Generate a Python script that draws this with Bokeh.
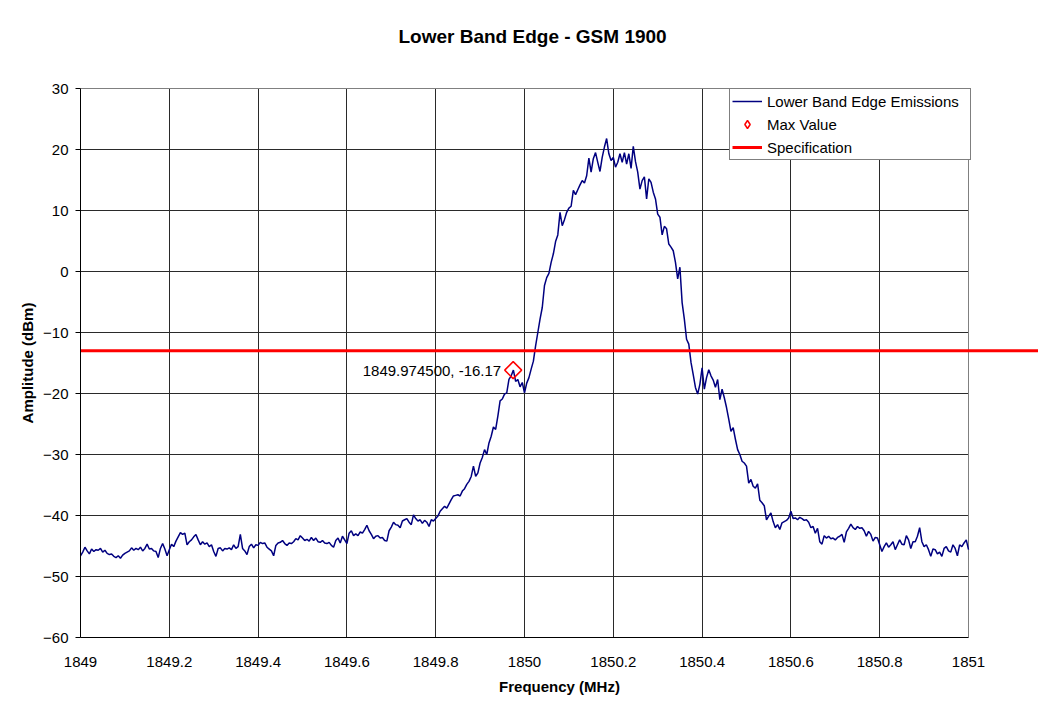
import numpy as np
from bokeh.plotting import figure
from bokeh.models import (Range1d, FixedTicker, LinearAxis, Span, BoxAnnotation,
                          Label, Legend, LegendItem, ColumnDataSource)
from bokeh.embed import file_html
from bokeh.resources import INLINE

# ---------------- data ----------------
title_text = "Lower Band Edge - GSM 1900"
x_label = "Frequency (MHz)"
y_label = "Amplitude (dBm)"
series_names = ["Lower Band Edge Emissions", "Max Value", "Specification"]

sweep_start = 1849.0   # MHz
sweep_step = 0.005     # MHz

amplitude = [
    -46.6, -46.0, -45.2, -45.8, -46.3, -45.5, -45.9, -45.6, -45.7, -45.4,
    -46.0, -45.7, -46.2, -46.4, -46.3, -46.7, -46.9, -46.6, -47.0, -46.5,
    -46.2, -46.0, -45.8, -45.3, -45.7, -45.4, -45.6, -45.2, -45.8, -45.4,
    -44.7, -45.5, -45.4, -45.8, -45.9, -46.9, -45.4, -44.6, -45.5, -46.6,
    -45.6, -44.7, -45.1, -44.2, -43.5, -42.8, -43.1, -42.9, -44.8, -44.3,
    -44.0, -43.5, -43.1, -44.0, -44.8, -44.3, -44.7, -44.5, -45.1, -44.8,
    -45.9, -46.7, -45.4, -45.3, -45.8, -45.4, -45.5, -45.3, -45.6, -44.8,
    -45.4, -45.1, -43.1, -45.4, -45.8, -46.4, -45.1, -44.7, -45.3, -44.8,
    -44.9,
    -44.4, -44.6, -44.5, -45.2, -45.5, -45.8, -46.6, -44.9, -44.5, -44.4,
    -44.1, -44.6, -44.9, -44.5, -44.6, -44.3, -43.8, -44.0, -43.3, -43.7,
    -44.1, -43.9, -44.2, -43.6, -44.1, -43.7, -44.3, -44.4, -44.1, -44.5,
    -44.6, -44.4, -44.9, -45.2, -44.1, -43.7, -44.5, -43.4, -44.0, -44.6,
    -42.9, -42.5, -43.3, -43.0, -43.3, -42.7, -42.9, -42.3, -41.6, -42.5,
    -43.1, -43.8, -43.4, -43.3, -43.7, -43.6, -44.1, -44.2, -42.5, -41.9,
    -41.1, -41.5, -41.6, -42.0, -40.9, -40.7, -40.5, -41.1, -41.5, -39.9,
    -40.5, -40.9, -40.7, -41.3, -40.8, -41.1, -41.8, -40.7, -40.9, -40.5,
    -40.1, -39.3, -38.9, -38.5, -38.8, -38.1, -37.4, -36.8, -36.7, -36.6,
    -36.8, -36.0, -35.6, -34.9, -34.4, -33.6, -31.9, -33.6, -33.0, -31.4,
    -30.5, -29.2, -30.0, -28.1, -27.0, -25.5, -25.9, -23.7, -21.2, -20.9,
    -20.1, -19.9, -17.7, -17.1, -16.17, -18.0, -17.7, -18.9, -18.2, -19.9,
    -18.3, -17.4, -16.0, -14.7, -12.2, -10.0, -7.8, -5.9, -2.3, -1.0,
    -0.3, 1.5, 2.9, 4.9, 6.0, 9.7, 7.5, 8.5, 9.7, 10.4,
    10.7, 13.3, 12.6, 13.4, 14.2, 14.9, 14.5, 15.7, 18.6, 16.3,
    18.5, 19.5, 17.9, 16.4, 18.7, 20.4, 21.8, 19.3, 18.2, 18.7,
    17.1, 17.9, 19.3, 17.9, 19.5, 17.6, 19.3, 16.9, 20.5, 18.0,
    16.3, 13.5, 14.9, 15.5, 11.9, 15.2, 14.6, 13.0, 11.9, 9.4,
    8.9, 6.0, 7.4, 7.0, 4.5, 4.0, 3.4, 1.5, -1.2, 0.7,
    -5.1, -7.8, -11.1, -11.9, -14.9, -16.9, -19.0, -20.1, -18.5, -15.8,
    -19.3, -17.4, -16.1, -17.1, -17.8, -19.0, -17.7, -21.0, -19.3, -20.7,
    -22.3, -24.2, -26.2, -25.6, -27.5, -29.2, -30.0, -31.1, -31.4, -31.9,
    -34.7, -34.1, -35.2, -35.5, -34.8, -37.5, -37.9, -38.4, -40.7, -40.1,
    -39.6, -41.0, -42.0, -41.5, -42.3, -41.2, -41.0, -40.8, -40.4, -39.3,
    -40.5, -40.4, -40.7, -40.3, -40.5, -40.8, -40.7, -41.1, -42.0, -41.8,
    -42.9, -42.1, -44.3, -44.7, -43.3, -43.7, -43.4, -43.8, -43.7, -44.0,
    -43.6, -43.4, -43.1, -44.4, -42.7, -42.1, -41.4, -42.0, -42.3, -41.8,
    -42.1, -42.0, -42.5, -43.4, -42.6, -43.1, -44.2, -43.6, -43.7, -44.8,
    -45.9, -45.1, -44.5, -45.2, -44.8, -44.3, -45.6, -44.8, -44.0, -44.7,
    -44.8, -43.3, -44.0, -45.4, -44.3, -44.3, -43.4, -42.0, -44.3, -45.1,
    -44.8, -45.6, -46.7, -45.5, -45.6, -46.3, -46.0, -46.7, -45.4, -45.1,
    -45.8, -46.0, -44.8, -45.4, -46.6, -44.8, -45.1, -44.5, -44.0, -45.6,
]

spec_limit = -13.0
max_freq = [1849.9745]
max_amp = [-16.17]
max_text = "1849.974500, -16.17"

x_ticks = [1849, 1849.2, 1849.4, 1849.6, 1849.8, 1850, 1850.2, 1850.4, 1850.6, 1850.8, 1851]
x_tick_labels = ["1849", "1849.2", "1849.4", "1849.6", "1849.8", "1850",
                 "1850.2", "1850.4", "1850.6", "1850.8", "1851"]
y_ticks = [-60, -50, -40, -30, -20, -10, 0, 10, 20, 30]

# ---------------- plot ----------------
FONT = "Liberation Sans"
freq = sweep_start + sweep_step * np.arange(len(amplitude))

FRAME_W = 958
PX_PER_MHZ = 888.0 / 2.0
x_lo, x_hi = x_ticks[0], x_ticks[-1]
x_end = x_lo + FRAME_W / PX_PER_MHZ   # frame runs to the page edge so the spec line passes the plot area

p = figure(frame_width=FRAME_W, frame_height=549,
           x_range=Range1d(x_lo, x_end), y_range=Range1d(y_ticks[0], y_ticks[-1]),
           output_backend="svg", toolbar_location=None,
           min_border_left=80, min_border_right=0, min_border_top=88, min_border_bottom=72,
           background_fill_color="white", border_fill_color="white")
p.outline_line_color = None

# title
p.title.text = title_text
p.title.align = "left"
p.title.offset = 318
p.title.text_font = FONT
p.title.text_font_size = "19px"
p.title.text_font_style = "bold"
p.title.text_color = "black"
p.title.standoff = 44

# axes
xa = p.xaxis[0]
xa.ticker = FixedTicker(ticks=x_ticks)
xa.major_label_overrides = dict(zip(x_ticks, x_tick_labels))
xa.bounds = (x_lo, x_hi)
xa.axis_label = x_label
xa.major_tick_out = 0
xa.major_tick_in = 0
xa.minor_tick_line_color = None
xa.major_label_standoff = 19
xa.axis_label_standoff = 8

ya = p.yaxis[0]
ya.ticker = FixedTicker(ticks=y_ticks)
ya.axis_label = y_label
ya.major_tick_out = 5
ya.major_tick_in = 0
ya.minor_tick_line_color = None
ya.major_label_standoff = 7
ya.axis_label_standoff = 4

for ax in (xa, ya):
    ax.axis_line_color = "black"
    ax.axis_line_width = 1
    ax.major_tick_line_color = "black"
    ax.major_label_text_font = FONT
    ax.major_label_text_font_size = "15px"
    ax.major_label_text_color = "black"
    ax.axis_label_text_font = FONT
    ax.axis_label_text_font_size = "15px"
    ax.axis_label_text_font_style = "bold"
    ax.axis_label_text_color = "black"

# top border of the plot area (gray), also used as a spacer pushing the title up
top_axis = LinearAxis(ticker=FixedTicker(ticks=[]), bounds=(x_lo, x_hi),
                      axis_line_color="#808080", major_tick_line_color=None,
                      major_tick_out=0, major_tick_in=0,
                      minor_tick_line_color=None, major_label_text_font_size="0px",
                      axis_label=" ", axis_label_text_font_size="2px",
                      axis_label_standoff=15)
p.add_layout(top_axis, "above")

# grid
p.xgrid.grid_line_color = "#2a2a2a"
p.ygrid.grid_line_color = "#2a2a2a"
p.xgrid.grid_line_width = 1
p.ygrid.grid_line_width = 1

cover = BoxAnnotation(left=x_hi, fill_color="white", fill_alpha=1.0, line_color=None, level="underlay")
p.add_layout(cover)
right_border = Span(location=x_hi, dimension="height", line_color="#808080", line_width=1, level="underlay")
p.add_layout(right_border)

# series
r_trace = p.line(freq, amplitude, line_color="#000080", line_width=1.5)
r_spec = p.line([x_lo, x_end], [spec_limit, spec_limit], line_color="#ff0000", line_width=3)
max_src = ColumnDataSource(data=dict(x=max_freq, y=max_amp))
r_max = p.scatter("x", "y", source=max_src, marker="square", angle=np.pi / 4, size=12,
                  fill_alpha=0, line_color="#ff0000", line_width=1.5)
# legend key for the max marker: a diamond, not drawn in the plot itself
r_max_key = p.scatter("x", "y", source=max_src, marker="diamond", size=12,
                      fill_alpha=0, line_color="#ff0000", line_width=1.5, visible=False)

p.add_layout(Label(x=max_freq[0], y=max_amp[0], x_offset=-12, text=max_text,
                   text_align="right", text_baseline="middle",
                   text_font=FONT, text_font_size="15px", text_color="black"))

legend = Legend(items=[LegendItem(label=series_names[0], renderers=[r_trace]),
                       LegendItem(label=series_names[1], renderers=[r_max_key]),
                       LegendItem(label=series_names[2], renderers=[r_spec])],
                location=(649, 477), orientation="vertical",
                label_text_font=FONT, label_text_font_size="15px", label_text_color="black",
                glyph_width=30, glyph_height=20, label_height=20, label_width=201, spacing=3,
                padding=2, margin=0, label_standoff=5,
                border_line_color="black", border_line_width=1,
                background_fill_color="white", background_fill_alpha=1.0,
                inactive_fill_alpha=0.0)
p.add_layout(legend)

open("out.html", "w").write(file_html(p, INLINE))
